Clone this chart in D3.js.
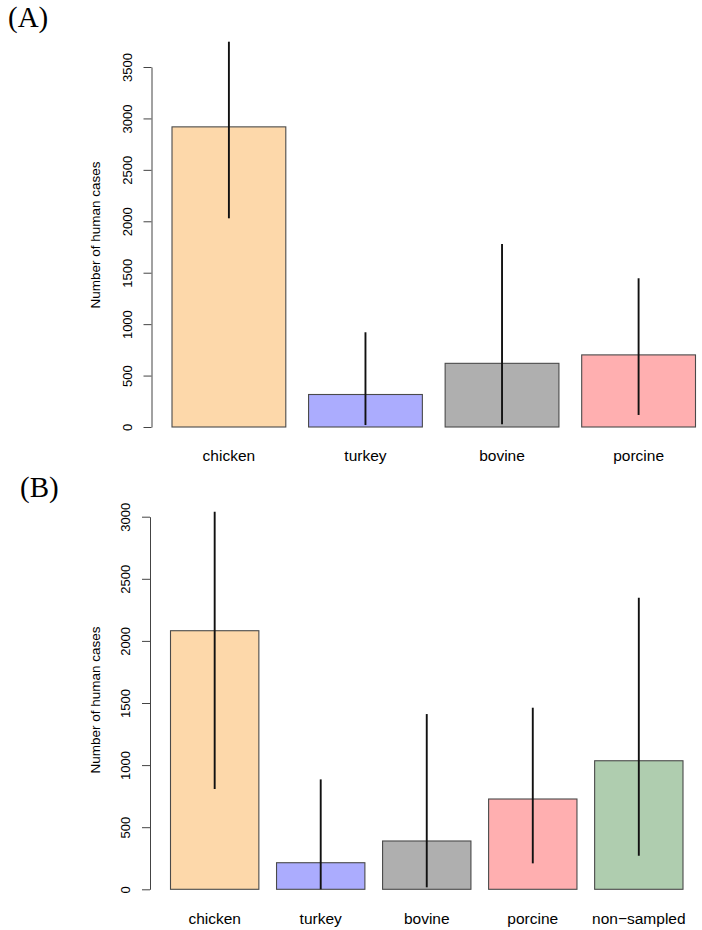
<!DOCTYPE html>
<html>
<head>
<meta charset="utf-8">
<script src="https://cdn.jsdelivr.net/npm/d3@7"></script>
<style>
  body { margin: 0; background: #fff; }
  svg { display: block; }
  .tick text, .ylab, .cat { font-family: "Liberation Sans", Arial, sans-serif; fill: #000; }
  .panel { font-family: "Liberation Serif", "Times New Roman", serif; fill: #000; }
</style>
</head>
<body>
<svg class="chart" width="702" height="930"></svg>
<script>
// panel A
const catsA = ["chicken", "turkey", "bovine", "porcine"];
const valsA = [2918, 316, 619, 701];
const lowA  = [2029, 19, 26, 117];
const highA = [3746, 921, 1779, 1446];
const ticksA = [0, 500, 1000, 1500, 2000, 2500, 3000, 3500];

// panel B
const catsB = ["chicken", "turkey", "bovine", "porcine", "non\u2212sampled"];
const valsB = [2082, 214, 389, 727, 1035];
const lowB  = [807, 0, 16, 209, 271];
const highB = [3040, 885, 1411, 1462, 2348];
const ticksB = [0, 500, 1000, 1500, 2000, 2500, 3000];

const colors = {
  "chicken": "#fdd8aa",
  "turkey": "#abacfe",
  "bovine": "#afafaf",
  "porcine": "#ffafb0",
  "non\u2212sampled": "#afcdaf"
};

const svg = d3.select(".chart");

function drawPanel(opt) {
  const g = svg.append("g");

  const x = d3.scaleBand()
    .domain(opt.cats)
    .range(opt.xRange)
    .paddingInner(0.2 / 1.2)
    .paddingOuter(0);

  const y = d3.scaleLinear()
    .domain([0, d3.max(opt.ticks)])
    .range(opt.yRange);

  // bars
  g.selectAll(".bar")
    .data(opt.cats)
    .join("rect")
    .attr("class", "bar")
    .attr("x", d => x(d))
    .attr("width", x.bandwidth())
    .attr("y", (d, i) => y(opt.vals[i]))
    .attr("height", (d, i) => y(0) - y(opt.vals[i]))
    .attr("fill", d => colors[d])
    .attr("stroke", "#4a4a4a")
    .attr("stroke-width", 1.1);

  // error lines
  g.selectAll(".err")
    .data(opt.cats)
    .join("line")
    .attr("class", "err")
    .attr("x1", d => x(d) + x.bandwidth() / 2)
    .attr("x2", d => x(d) + x.bandwidth() / 2)
    .attr("y1", (d, i) => y(opt.low[i]))
    .attr("y2", (d, i) => y(opt.high[i]))
    .attr("stroke", "#111")
    .attr("stroke-width", 1.9);

  // y axis, R style with rotated labels
  g.append("g")
    .attr("transform", `translate(${opt.axisX},0)`)
    .call(d3.axisLeft(y).tickValues(opt.ticks).tickSize(8).tickSizeOuter(0).tickFormat(d3.format("d")))
    .call(a => a.select(".domain").attr("stroke", "#444"))
    .call(a => a.selectAll(".tick line").attr("stroke", "#444"))
    .call(a => a.selectAll(".tick text")
      .attr("transform", "rotate(-90)")
      .attr("x", 0)
      .attr("y", -20)
      .attr("dy", 0)
      .attr("text-anchor", "middle")
      .style("font-size", "13px"));

  g.append("text")
    .attr("class", "ylab")
    .attr("transform", `translate(100,${opt.ylabY}) rotate(-90)`)
    .attr("text-anchor", "middle")
    .style("font-size", "13.5px")
    .text("Number of human cases");

  // category names
  g.selectAll(".cat")
    .data(opt.cats)
    .join("text")
    .attr("class", "cat")
    .attr("x", d => x(d) + x.bandwidth() / 2)
    .attr("y", opt.catY)
    .attr("text-anchor", "middle")
    .style("font-size", "15.5px")
    .text(d => d);

  g.append("text")
    .attr("class", "panel")
    .attr("x", opt.labelPos[0])
    .attr("y", opt.labelPos[1])
    .style("font-size", "29px")
    .text(opt.label);
}

drawPanel({
  cats: catsA, vals: valsA, low: lowA, high: highA, ticks: ticksA,
  xRange: [172, 695.5], yRange: [427, 67], axisX: 151.5,
  ylabY: 235, catY: 461, label: "(A)", labelPos: [8, 27]
});

drawPanel({
  cats: catsB, vals: valsB, low: lowB, high: highB, ticks: ticksB,
  xRange: [170.5, 683], yRange: [889.3, 516.7], axisX: 150,
  ylabY: 700, catY: 924, label: "(B)", labelPos: [20, 497]
});
</script>
</body>
</html>
